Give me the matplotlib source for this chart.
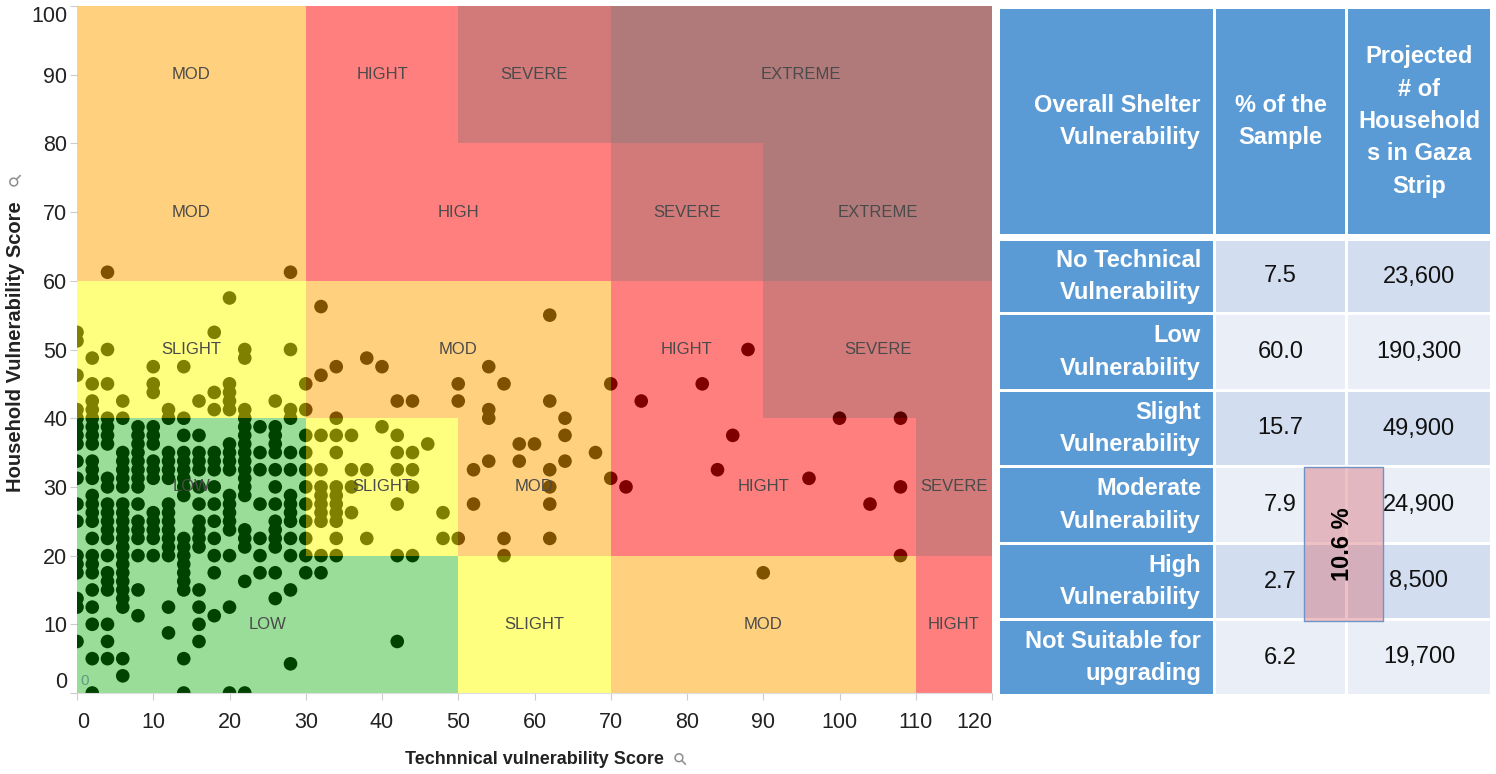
import matplotlib
matplotlib.use("Agg")
import matplotlib.pyplot as plt
from matplotlib import font_manager
from matplotlib.patches import Rectangle

installed = {f.name for f in font_manager.fontManager.ttflist}
narrow = 'Liberation Sans Narrow' if 'Liberation Sans Narrow' in installed else 'Liberation Sans'
plt.rcParams['font.family'] = [narrow, 'DejaVu Sans']

# scatter: technical score columns, household scores found in each column
tech_cols = [0, 2, 4, 6, 8, 10, 12, 14, 16, 18, 20, 22, 24, 26, 28, 30, 32, 34,
             36, 38, 40, 42, 44, 46, 48, 50, 52, 54, 56, 58, 60, 62, 64, 68, 70,
             72, 74, 82, 84, 86, 88, 90, 96, 100, 104, 108]
house_by_col = [
    [52.5, 51.25, 46.25, 41.25, 40, 38.75, 37.5, 36.25, 33.75, 31.25, 27.5, 25, 20, 18.75, 17.5, 13.75, 12.5, 7.5],
    [48.75, 45, 42.5, 41.25, 40, 38.75, 37.5, 36.25, 33.75, 32.5, 31.25, 28.75, 27.5, 26.25, 25, 22.5, 20, 18.75,
     17.5, 15, 12.5, 10, 5, 0],
    [61.25, 50, 45, 40, 38.75, 37.5, 36.25, 31.25, 30, 27.5, 26.25, 25, 23.75, 22.5, 20, 17.5, 16.25, 15, 10, 7.5, 5],
    [42.5, 40, 35, 33.75, 32.5, 31.25, 30, 27.5, 26.25, 25, 23.75, 22.5, 21.25, 20, 18.75, 17.5, 16.25, 15, 13.75,
     12.5, 5, 2.5],
    [38.75, 37.5, 36.25, 35, 33.75, 32.5, 31.25, 30, 27.5, 25, 23.75, 22.5, 20, 15, 11.25],
    [47.5, 45, 43.75, 38.75, 37.5, 36.25, 33.75, 32.5, 31.25, 26.25, 25, 23.75, 22.5, 20],
    [41.25, 40, 35, 33.75, 32.5, 31.25, 27.5, 26.25, 25, 23.75, 22.5, 21.25, 20, 12.5, 8.75],
    [47.5, 40, 37.5, 35, 33.75, 32.5, 31.25, 30, 28.75, 22.5, 21.25, 20, 18.75, 17.5, 16.25, 15, 5, 0],
    [42.5, 37.5, 35, 33.75, 32.5, 30, 27.5, 25, 23.75, 22.5, 21.25, 15, 12.5, 10, 7.5],
    [52.5, 43.75, 41.25, 35, 33.75, 32.5, 30, 27.5, 25, 22.5, 20, 17.5, 11.25],
    [57.5, 45, 43.75, 42.5, 41.25, 36.25, 35, 33.75, 32.5, 28.75, 27.5, 26.25, 25, 23.75, 20, 12.5, 0],
    [50, 48.75, 41.25, 40, 38.75, 37.5, 36.25, 35, 33.75, 32.5, 31.25, 30, 28.75, 23.75, 22.5, 21.25, 16.25, 0],
    [38.75, 35, 32.5, 27.5, 22.5, 20, 17.5],
    [42.5, 38.75, 37.5, 36.25, 35, 32.5, 30, 27.5, 25, 23.75, 22.5, 21.25, 17.5, 13.75],
    [61.25, 50, 41.25, 40, 35, 32.5, 28.75, 27.5, 26.25, 25, 22.5, 20, 15, 4.25],
    [45, 41.25, 37.5, 35, 32.5, 30, 27.5, 25, 22.5, 20, 17.5],
    [56.25, 46.25, 37.5, 32.5, 30, 28.75, 27.5, 26.25, 25, 20, 17.5],
    [47.5, 40, 37.5, 35, 30, 28.75, 27.5, 26.25, 25, 22.5, 20],
    [37.5, 32.5, 30, 26.25],
    [48.75, 32.5, 22.5],
    [47.5, 38.75],
    [42.5, 37.5, 35, 32.5, 27.5, 20, 7.5],
    [42.5, 35, 32.5, 30, 20],
    [36.25],
    [26.25, 22.5],
    [45, 42.5, 22.5],
    [32.5, 27.5],
    [47.5, 41.25, 40, 33.75],
    [45, 22.5, 20],
    [36.25, 33.75],
    [36.25],
    [55, 42.5, 32.5, 30, 27.5, 22.5],
    [40, 37.5, 33.75],
    [35],
    [45, 31.25],
    [30],
    [42.5],
    [45],
    [32.5],
    [37.5],
    [50],
    [17.5],
    [31.25],
    [40],
    [27.5],
    [40, 30, 20],
]

# vulnerability zones on the score grid
zone_x0 = [0, 30, 0, 30, 50, 0, 30, 50, 70, 30, 30, 70, 70, 110, 50, 70, 90, 110, 70, 90]
zone_x1 = [30, 50, 30, 50, 70, 30, 70, 70, 110, 50, 70, 90, 110, 120, 70, 90, 120, 120, 120, 120]
zone_y0 = [0, 0, 40, 20, 0, 60, 40, 20, 0, 80, 60, 40, 20, 0, 80, 60, 40, 20, 80, 60]
zone_y1 = [40, 20, 60, 40, 20, 100, 60, 40, 20, 100, 80, 60, 40, 20, 100, 80, 60, 40, 100, 80]
zone_level = ['LOW', 'LOW', 'SLIGHT', 'SLIGHT', 'SLIGHT', 'MOD', 'MOD', 'MOD', 'MOD',
              'HIGH', 'HIGH', 'HIGH', 'HIGH', 'HIGH', 'SEVERE', 'SEVERE', 'SEVERE', 'SEVERE',
              'EXTREME', 'EXTREME']
level_style = {'LOW': ('#00aa00', 0.4), 'SLIGHT': ('#ffff00', 0.5), 'MOD': ('#ffa500', 0.5),
               'HIGH': ('#ff0000', 0.5), 'SEVERE': ('#aa0000', 0.52), 'EXTREME': ('#6a0000', 0.52)}

label_text = ['MOD', 'HIGHT', 'SEVERE', 'EXTREME', 'MOD', 'HIGH', 'SEVERE', 'EXTREME',
              'SLIGHT', 'MOD', 'HIGHT', 'SEVERE', 'LOW', 'SLIGHT', 'MOD', 'HIGHT', 'SEVERE',
              'LOW', 'SLIGHT', 'MOD', 'HIGHT']
label_x = [15, 40, 60, 95, 15, 50, 80, 105, 15, 50, 80, 105, 15, 40, 60, 90, 115, 25, 60, 90, 115]
label_y = [90, 90, 90, 90, 70, 70, 70, 70, 50, 50, 50, 50, 30, 30, 30, 30, 30, 10, 10, 10, 10]

# table
header = ['Overall Shelter\nVulnerability', '% of the\nSample', 'Projected\n# of\nHousehold\ns in Gaza\nStrip']
categories = ['No Technical\nVulnerability', 'Low\nVulnerability', 'Slight\nVulnerability',
              'Moderate\nVulnerability', 'High\nVulnerability', 'Not Suitable for\nupgrading']
pct_sample = [7.5, 60.0, 15.7, 7.9, 2.7, 6.2]
households = [23600, 190300, 49900, 24900, 8500, 19700]

fig = plt.figure(figsize=(14.96, 7.74), dpi=100)
ax = fig.add_axes([77 / 1496, 1 - 693 / 774, 915 / 1496, 687 / 774])

dot_x = [x for x, ys in zip(tech_cols, house_by_col) for _ in ys]
dot_y = [y for ys in house_by_col for y in ys]
ax.scatter(dot_x, dot_y, s=96, color='black', edgecolors='none', zorder=1)

for x0, x1, y0, y1, lev in zip(zone_x0, zone_x1, zone_y0, zone_y1, zone_level):
    col, a = level_style[lev]
    ax.add_patch(Rectangle((x0, y0), x1 - x0, y1 - y0, facecolor=col, alpha=a,
                           edgecolor='none', zorder=2))

for t, x, y in zip(label_text, label_x, label_y):
    ax.text(x, y, t, ha='center', va='center', fontsize=12, color='#4a4a4a', zorder=3)
ax.text(0.4, 1.2, '0', fontsize=11, color='#5e9e86', zorder=3)

ax.set_xlim(0, 120)
ax.set_ylim(0, 100)
ax.set_xticks(range(0, 121, 10))
ax.set_yticks(range(0, 101, 10))
ax.tick_params(labelsize=15.5, colors='#cccccc', labelcolor='#222222', length=5, width=0.8)
ax.tick_params(axis='x', pad=9)
ax.tick_params(axis='y', pad=2)
xl = ax.get_xticklabels()
xl[0].set_ha('left')
xl[-1].set_ha('right')
yl = ax.get_yticklabels()
yl[0].set_va('bottom')
yl[-1].set_va('top')
for s in ax.spines.values():
    s.set_visible(False)
ax.spines['bottom'].set_visible(True)
ax.spines['bottom'].set_color('#dddddd')

fig.text(534 / 1496, 1 - 759 / 774, 'Technnical vulnerability Score', ha='center', va='center',
         fontsize=13, fontweight='bold', color='#222222')
fig.text(681 / 1496, 1 - 759 / 774, '⚲', ha='center', va='center', fontsize=12,
         color='#888888', rotation=45, family='DejaVu Sans')
fig.text(16 / 1496, 1 - 347 / 774, 'Household Vulnerability Score', ha='center', va='center',
         rotation=90, fontsize=14.5, fontweight='bold', color='#222222', family='Liberation Sans')
fig.text(14 / 1496, 1 - 178 / 774, '⚲', ha='center', va='center', fontsize=12,
         color='#888888', rotation=135, family='DejaVu Sans')

# table drawn on a pixel-space overlay
tx = fig.add_axes([0, 0, 1, 1])
tx.set_xlim(0, 1496)
tx.set_ylim(774, 0)
tx.axis('off')
col_edges = [(1000, 1213), (1216, 1345), (1348, 1490)]
row_edges = [(9, 234), (241, 312), (315, 389), (392, 465), (468, 542), (545, 618), (621, 694)]
blue = '#5b9bd5'
shades = ['#d2ddef', '#e9eef7']
tfont = dict(family='Liberation Sans', fontsize=17, linespacing=1.52)

def cell(c, r, color):
    (x0, x1), (y0, y1) = col_edges[c], row_edges[r]
    tx.add_patch(Rectangle((x0, y0), x1 - x0, y1 - y0, facecolor=color, edgecolor='none'))
    return x0, x1, (y0 + y1) / 2

for c, h in enumerate(header):
    x0, x1, yc = cell(c, 0, blue)
    if c == 0:
        tx.text(x1 - 12, yc, h, ha='right', va='center', color='white', fontweight='bold',
                multialignment='right', **tfont)
    else:
        tx.text((x0 + x1) / 2, yc, h, ha='center', va='center', color='white',
                fontweight='bold', multialignment='center', **tfont)

for i, (cat, p, n) in enumerate(zip(categories, pct_sample, households)):
    r = i + 1
    x0, x1, yc = cell(0, r, blue)
    tx.text(x1 - 12, yc, cat, ha='right', va='center', color='white', fontweight='bold',
            multialignment='right', **tfont)
    x0, x1, yc = cell(1, r, shades[i % 2])
    tx.text((x0 + x1) / 2, yc, f'{p:.1f}', ha='center', va='center', color='#111111', **tfont)
    x0, x1, yc = cell(2, r, shades[i % 2])
    tx.text((x0 + x1) / 2, yc, f'{n:,}', ha='center', va='center', color='#111111', **tfont)

# moderate + high bracket
mh = pct_sample[3] + pct_sample[4]
y0, y1 = row_edges[4][0] - 1, row_edges[5][1] + 3
tx.add_patch(Rectangle((1304, y0), 79, y1 - y0, facecolor='#da767d', alpha=0.45,
                       edgecolor='none'))
tx.add_patch(Rectangle((1304, y0), 79, y1 - y0, facecolor='none', edgecolor='#6f93c6', lw=1))
tx.text(1343, (y0 + y1) / 2, f'{mh:.1f} %', rotation=90, ha='center', va='center',
        fontsize=17, fontweight='bold', color='black', family='Liberation Sans')

fig.savefig('out.png', dpi=100)
